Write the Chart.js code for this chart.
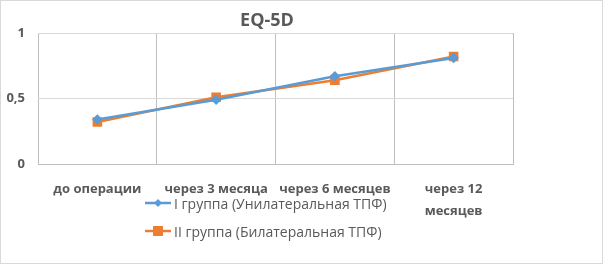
<!DOCTYPE html>
<html>
<head>
<meta charset="utf-8">
<script src="https://cdn.jsdelivr.net/npm/chart.js@4/dist/chart.umd.min.js"></script>
<style>
  html, body { margin: 0; padding: 0; background: #fff; }
  #wrap { position: relative; width: 603px; height: 264px; box-sizing: border-box; border: 1px solid #d9d9d9; }
  #chart { position: absolute; left: 0; top: 0; }
  #title { position: absolute; left: 166px; width: 200px; top: 5px; text-align: center; font-family: "Open Sans", sans-serif; font-weight: bold; font-size: 18px; line-height: 26px; color: #595959; }
  #legend { position: absolute; left: 144px; top: 188px; font-family: "Open Sans", sans-serif; font-size: 14px; color: #595959; }
  #legend div { height: 28px; display: flex; align-items: center; }
  #legend svg { margin-right: 3px; }
</style>
</head>
<body>
<div id="wrap">
  <canvas id="chart" width="603" height="264"></canvas>
  <div id="title">EQ-5D</div>
  <div id="legend"></div>
</div>
<script>
const categories = ["до операции", "через 3 месяца", "через 6 месяцев", ["через 12", "месяцев"]];
const group1 = [0.34, 0.49, 0.67, 0.81];
const group2 = [0.32, 0.51, 0.64, 0.82];
const seriesNames = ["I группа (Унилатеральная ТПФ)", "II группа (Билатеральная ТПФ)"];
const yTicks = [0, 0.5, 1];

const ctx = document.getElementById("chart").getContext("2d");
const chart = new Chart(ctx, {
  type: "line",
  data: {
    labels: categories,
    datasets: [
      {
        label: seriesNames[0],
        data: group1,
        borderColor: "#5B9BD5",
        backgroundColor: "#5B9BD5",
        borderWidth: 2.5,
        pointStyle: "rectRot",
        pointRadius: 3.5,
      },
      {
        label: seriesNames[1],
        data: group2,
        borderColor: "#ED7D31",
        backgroundColor: "#ED7D31",
        borderWidth: 2.5,
        pointStyle: "rect",
        pointRadius: 5,
      },
    ],
  },
  options: {
    responsive: false,
    animation: false,
    layout: { padding: { left: 0, right: 91, top: 32, bottom: 0 } },
    plugins: {
      legend: { display: false },
      tooltip: { enabled: false },
    },
    scales: {
      x: {
        offset: true,
        grid: { offset: true, color: "#bfbfbf", drawTicks: false },
        border: { color: "#bfbfbf" },
        afterFit: (scale) => { scale.height = 101; },
        ticks: {
          color: "#595959",
          font: { family: "Open Sans", size: 13, weight: "bold", lineHeight: 1.7 },
          maxRotation: 0,
          padding: 14,
        },
      },
      y: {
        min: 0,
        max: 1,
        afterBuildTicks: (scale) => { scale.ticks = yTicks.map((v) => ({ value: v })); },
        afterFit: (scale) => { scale.width = 37; },
        grid: { color: "#d9d9d9", drawTicks: false },
        border: { display: false },
        ticks: {
          color: "#595959",
          font: { family: "Open Sans", size: 13, weight: "bold" },
          padding: 13,
          callback: (v) => String(v).replace(".", ","),
        },
      },
    },
  },
});

// legend in a vertical list, like the original
const legend = document.getElementById("legend");
chart.data.datasets.forEach((ds) => {
  const row = document.createElement("div");
  const marker = ds.pointStyle === "rect"
    ? `<rect x="8" y="2" width="10" height="10" fill="${ds.borderColor}"/>`
    : `<polygon points="13,3 17,7 13,11 9,7" fill="${ds.borderColor}"/>`;
  row.innerHTML = `<svg width="26" height="14"><line x1="0" y1="7" x2="26" y2="7" stroke="${ds.borderColor}" stroke-width="2.5"/>${marker}</svg><span>${ds.label}</span>`;
  legend.appendChild(row);
});
</script>
</body>
</html>
